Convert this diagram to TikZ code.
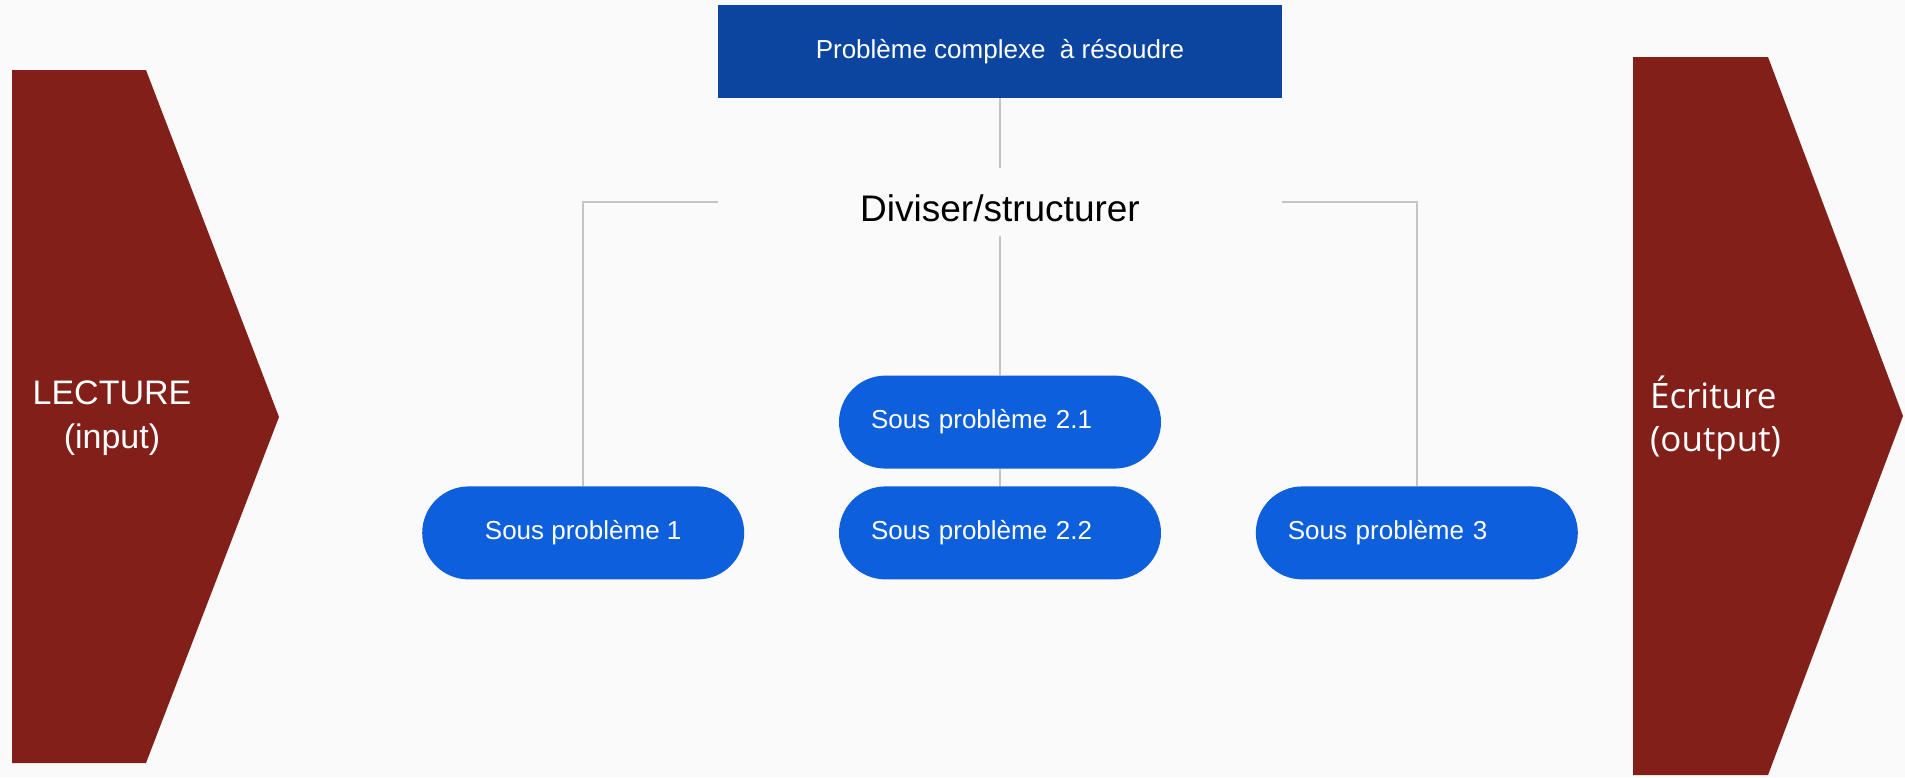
\documentclass[tikz,border=0pt]{standalone}
\usepackage{fontspec}
\setmainfont{Liberation Sans}
\newfontfamily\opensans{Open Sans}
\usetikzlibrary{positioning}
\definecolor{bgcol}{HTML}{FAFAFA}
\definecolor{chevred}{HTML}{821F18}
\definecolor{topblue}{HTML}{0B45A0}
\definecolor{pillblue}{HTML}{0E5FDC}
\definecolor{linegray}{HTML}{C4C4C4}
\tikzstyle{topbox} = [rectangle, fill=topblue, text=white, minimum width=282pt, minimum height=46.5pt, font=\fontsize{13}{15}\selectfont]
\tikzstyle{pill} = [rectangle, rounded corners=23.25pt, fill=pillblue, text=white, minimum width=161pt, minimum height=46.5pt, inner sep=0pt, font=\fontsize{13}{15}\selectfont]
\tikzstyle{pillleft} = [pill, text width=129pt, inner xsep=16pt, align=left]
\tikzstyle{link} = [draw=linegray, line width=1pt]
\tikzstyle{chevtext} = [text=white, align=center, font=\fontsize{17}{22}\selectfont]

\begin{document}
\begin{tikzpicture}[x=0.5pt, y=-0.5pt]
\fill[bgcol] (0,0) rectangle (1905,777);

% chevrons
\fill[chevred] (12,70) -- (146,70) -- (279,417) -- (146,763) -- (12,763) -- cycle;
\fill[chevred] (1633,57) -- (1768,57) -- (1903,416) -- (1768,775) -- (1633,775) -- cycle;
\node (lect) [chevtext] at (112,418) {LECTURE\\(input)};
\node (ecri) [chevtext, anchor=west, align=left, font=\opensans\fontsize{17.5}{21.5}\selectfont] at (1643,418) {Écriture\\(output)};

\node (prob) [topbox] at (1000,51.5) {Problème complexe~ à résoudre};
\node (div) [below=35pt of prob, minimum width=282pt, inner ysep=0pt, text height=26.5pt, text depth=7pt, font=\fontsize{18.5}{22}\selectfont] {Diviser/structurer};
\node (sp21) [pillleft, below=69.5pt of div] {Sous problème 2.1};
\node (sp22) [pillleft, below=8.5pt of sp21] {Sous problème 2.2};
\node (sp1) [pill, left=47pt of sp22] {Sous problème 1};
\node (sp3) [pillleft, right=47pt of sp22] {Sous problème 3};

\draw [link] (prob) -- (div);
\draw [link] (div.west) -| (sp1);
\draw [link] (div.east) -| (sp3);
\draw [link] (div) -- (sp21);
\draw [link] (sp21) -- (sp22);
\end{tikzpicture}
\end{document}
